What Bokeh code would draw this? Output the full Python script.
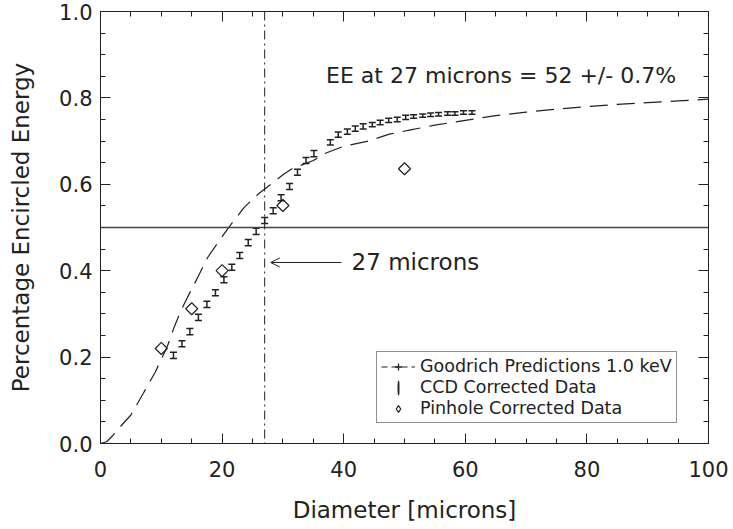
import math
from bokeh.plotting import figure
from bokeh.models import (Range1d, LinearAxis, FixedTicker, PrintfTickFormatter, Span, Label,
                          Arrow, OpenHead, Legend, LegendItem, ColumnDataSource, Whisker, TeeHead)
from bokeh.embed import file_html
from bokeh.resources import INLINE

# ---------------- data ----------------
goodrich_x = [0, 1, 2, 3, 5, 7, 9, 11, 12, 13, 14, 16, 17.6, 19.3, 21.5, 23.6, 26, 28, 30, 31.5,
              35, 37, 40, 44, 47.5, 51, 55, 60, 65, 70, 75, 80, 85, 90, 95, 100]
goodrich_y = [0.0, 0.004, 0.018, 0.035, 0.066, 0.115, 0.165, 0.225, 0.265, 0.300, 0.330, 0.385,
              0.430, 0.465, 0.508, 0.546, 0.578, 0.600, 0.622, 0.636, 0.655, 0.672, 0.688, 0.700,
              0.716, 0.726, 0.737, 0.748, 0.759, 0.767, 0.774, 0.780, 0.785, 0.789, 0.793, 0.797]

ccd_x = [12.0, 13.4, 14.7, 16.1, 17.5, 18.9, 20.3, 21.6, 22.9, 24.3, 25.6, 27.0, 28.4, 29.7, 31.1,
         32.4, 33.8, 35.1, 37.8, 39.1, 40.6, 41.9, 43.2, 44.7, 46.0, 47.4, 48.8, 50.2, 51.5, 53.0,
         54.3, 55.6, 57.1, 58.3, 59.7, 61.1]
ccd_y = [0.204, 0.231, 0.259, 0.292, 0.322, 0.349, 0.379, 0.408, 0.435, 0.465, 0.491, 0.516, 0.539,
         0.569, 0.595, 0.628, 0.655, 0.671, 0.697, 0.715, 0.722, 0.729, 0.734, 0.738, 0.743, 0.748,
         0.750, 0.755, 0.757, 0.759, 0.761, 0.762, 0.764, 0.764, 0.766, 0.766]
ccd_err = [0.007, 0.007, 0.007, 0.007, 0.007, 0.007, 0.007, 0.007, 0.007, 0.007, 0.007, 0.007, 0.007,
           0.007, 0.007, 0.007, 0.007, 0.007, 0.006, 0.006, 0.006, 0.006, 0.006, 0.005, 0.005, 0.005,
           0.005, 0.005, 0.004, 0.004, 0.004, 0.004, 0.004, 0.004, 0.004, 0.004]

pinhole_x = [10, 15, 20, 30, 50]
pinhole_y = [0.220, 0.312, 0.400, 0.551, 0.636]

x_ticks = [0, 20, 40, 60, 80, 100]
y_ticks = [0.0, 0.2, 0.4, 0.6, 0.8, 1.0]
legend_labels = ["Goodrich Predictions 1.0 keV", "CCD Corrected Data", "Pinhole Corrected Data"]
ee_label = "EE at 27 microns = 52 +/- 0.7%"
arrow_label = "27 microns"
threshold = 0.5
marker_diameter = 27

FONT = "DejaVu Sans"
INK = "#222222"
NAN = float("nan")  # legend-only proxies carry no visible data

p = figure(width=733, height=529, output_backend="svg", toolbar_location=None,
           x_range=Range1d(0, 100), y_range=Range1d(0, 1.0),
           min_border_left=100, min_border_right=25, min_border_top=11, min_border_bottom=86)
p.grid.visible = False
p.outline_line_color = INK
p.outline_line_width = 1
p.background_fill_color = "white"
p.border_fill_color = "white"

xt = FixedTicker(ticks=x_ticks, minor_ticks=[v for v in range(0, 101, 5)])
yt = FixedTicker(ticks=y_ticks, minor_ticks=[round(i * 0.05, 2) for i in range(21)])

def style_axis(ax, labels=True):
    ax.major_tick_in = 10
    ax.major_tick_out = 0
    ax.minor_tick_in = 5
    ax.minor_tick_out = 0
    ax.axis_line_color = INK
    ax.major_tick_line_color = INK
    ax.minor_tick_line_color = INK
    ax.major_label_text_font = FONT
    ax.major_label_text_color = INK
    ax.axis_label_text_font = FONT
    ax.axis_label_text_color = INK
    ax.axis_label_text_font_style = "normal"
    if not labels:
        ax.major_label_text_color = None
        ax.major_label_text_font_size = "1px"
        ax.major_label_standoff = 0

xa = p.xaxis[0]
xa.ticker = xt
style_axis(xa)
xa.major_label_text_font_size = "21px"
xa.major_label_standoff = 17
xa.axis_label = "Diameter [microns]"
xa.axis_label_text_font_size = "23px"
xa.axis_label_standoff = 17

ya = p.yaxis[0]
ya.ticker = yt
ya.formatter = PrintfTickFormatter(format="%.1f")
style_axis(ya)
ya.major_label_text_font_size = "21px"
ya.major_label_standoff = 8
ya.axis_label = "Percentage Encircled Energy"
ya.axis_label_text_font_size = "23px"
ya.axis_label_standoff = 22

top = LinearAxis(ticker=xt)
style_axis(top, labels=False)
p.add_layout(top, "above")
right = LinearAxis(ticker=yt)
style_axis(right, labels=False)
p.add_layout(right, "right")

# reference lines
p.add_layout(Span(location=threshold, dimension="width", line_color="#444444", line_width=1.5))
p.add_layout(Span(location=marker_diameter, dimension="height", line_color=INK, line_width=1,
                  line_dash="9 4 2 4"))

# Goodrich predictions
p.line(goodrich_x, goodrich_y, line_color=INK, line_width=1.2, line_dash="18 9")

# CCD data with error bars
src = ColumnDataSource(dict(x=ccd_x, y=ccd_y,
                            lo=[a - b for a, b in zip(ccd_y, ccd_err)],
                            hi=[a + b for a, b in zip(ccd_y, ccd_err)]))
p.add_layout(Whisker(source=src, base="x", upper="hi", lower="lo", line_color=INK, line_width=1.5,
                     upper_head=TeeHead(size=7, line_color=INK, line_width=1.5),
                     lower_head=TeeHead(size=7, line_color=INK, line_width=1.5)))

# pinhole data
p.scatter(pinhole_x, pinhole_y, marker="square", angle=math.pi / 4, size=8.5,
          fill_color=None, line_color=INK, line_width=1.2)

# legend-only proxies (NaN data: nothing drawn in the plot area)
lg_line = p.line([NAN, NAN], [NAN, NAN], line_color=INK, line_width=1.2, line_dash="6 4")
lg_cross = p.scatter([NAN], [NAN], marker="cross", size=11, line_color=INK, line_width=1.3)
lg_bar = p.ellipse(x=[NAN], y=[NAN], width=0.4, height=14, width_units="screen",
                   height_units="screen", fill_color=None, line_color=INK, line_width=1.6)
lg_dia = p.scatter([NAN], [NAN], marker="diamond", size=10, fill_color=None,
                   line_color=INK, line_width=1.2)

legend = Legend(items=[LegendItem(label=legend_labels[0], renderers=[lg_line, lg_cross]),
                       LegendItem(label=legend_labels[1], renderers=[lg_bar]),
                       LegendItem(label=legend_labels[2], renderers=[lg_dia])],
                location=(276, 20), orientation="vertical",
                border_line_color=INK, border_line_width=1, background_fill_color="white",
                background_fill_alpha=1, label_text_font=FONT, label_text_font_size="17.5px",
                label_text_line_height=1.0,
                label_text_color=INK, glyph_width=34, glyph_height=17, label_height=17,
                label_standoff=5, spacing=1, padding=4, margin=0)
p.add_layout(legend, "center")

# annotations
p.add_layout(Label(x=37.1, y=0.852, text=ee_label, text_font=FONT, text_font_size="22px",
                   text_color=INK, text_baseline="alphabetic"))
p.add_layout(Arrow(x_start=39.6, y_start=0.419, x_end=28.0, y_end=0.419, line_color=INK,
                   line_width=1, end=OpenHead(size=9, line_color=INK, line_width=1)))
p.add_layout(Label(x=41.3, y=0.419, text=arrow_label, text_font=FONT, text_font_size="23px",
                   text_color=INK, text_baseline="middle"))

open("out.html", "w").write(file_html(p, INLINE))
